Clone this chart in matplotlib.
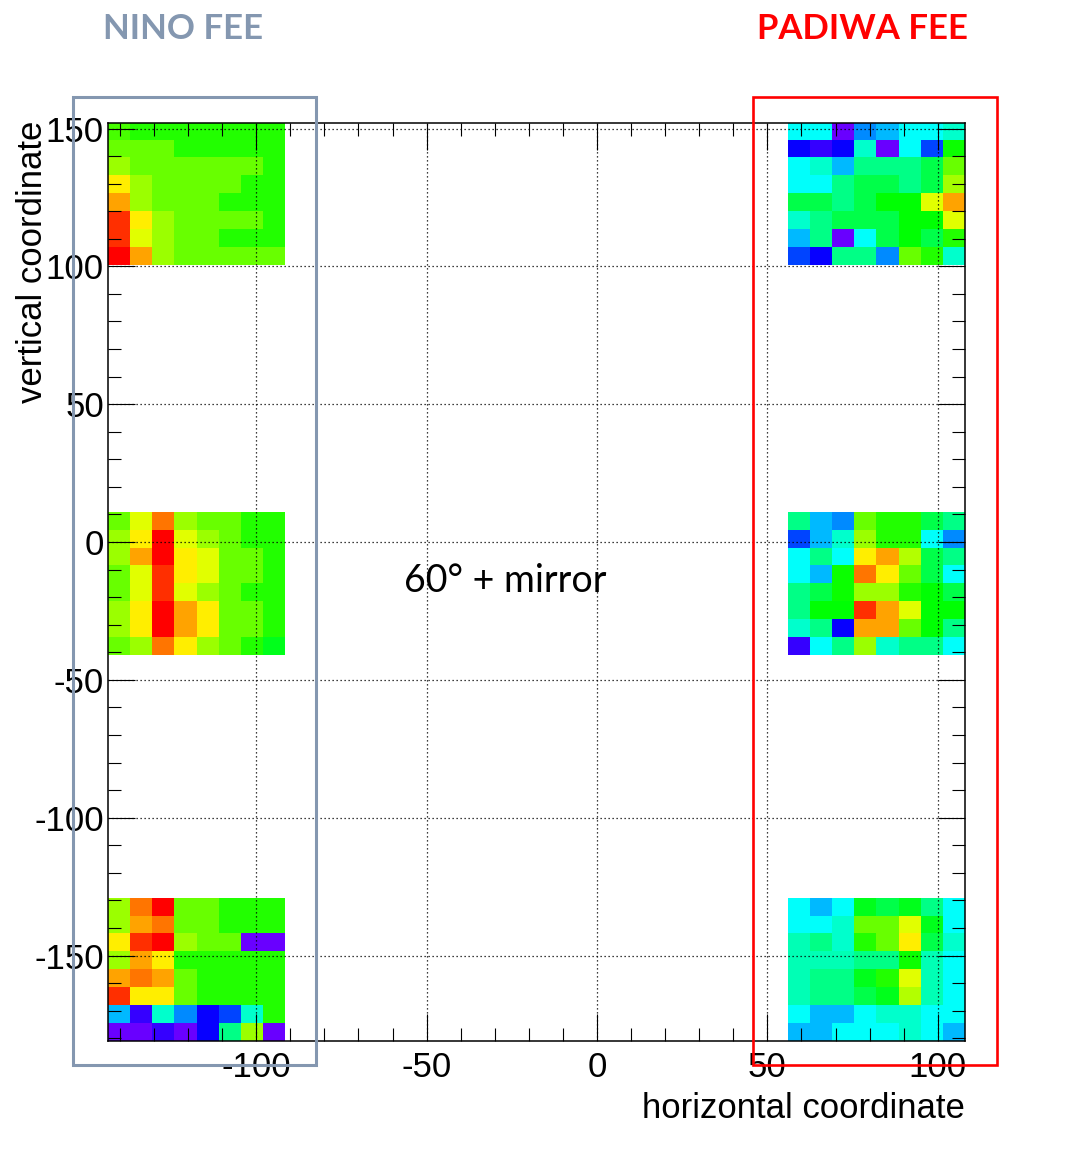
import numpy as np
import matplotlib
matplotlib.use('Agg')
import matplotlib.pyplot as plt
from matplotlib.colors import ListedColormap, hsv_to_rgb
from matplotlib.patches import Rectangle
from matplotlib.ticker import MultipleLocator

# cell values (0 = violet ... 1 = red), rows listed top to bottom
nino_top = [
    [0.63, 0.60, 0.60, 0.60, 0.60, 0.60, 0.60, 0.60],
    [0.66, 0.66, 0.66, 0.60, 0.60, 0.60, 0.60, 0.60],
    [0.70, 0.66, 0.66, 0.66, 0.66, 0.66, 0.66, 0.60],
    [0.80, 0.70, 0.66, 0.66, 0.66, 0.66, 0.60, 0.60],
    [0.86, 0.70, 0.66, 0.66, 0.66, 0.60, 0.60, 0.60],
    [0.96, 0.80, 0.70, 0.66, 0.66, 0.66, 0.66, 0.60],
    [0.96, 0.76, 0.70, 0.66, 0.66, 0.60, 0.60, 0.60],
    [1.00, 0.86, 0.70, 0.66, 0.66, 0.66, 0.66, 0.66],
]
nino_mid = [
    [0.66, 0.76, 0.90, 0.70, 0.66, 0.66, 0.60, 0.60],
    [0.70, 0.80, 1.00, 0.76, 0.70, 0.66, 0.60, 0.60],
    [0.70, 0.86, 1.00, 0.80, 0.76, 0.66, 0.66, 0.60],
    [0.66, 0.76, 0.96, 0.80, 0.76, 0.66, 0.66, 0.60],
    [0.66, 0.76, 0.96, 0.76, 0.70, 0.66, 0.60, 0.60],
    [0.70, 0.80, 1.00, 0.86, 0.80, 0.66, 0.66, 0.60],
    [0.70, 0.80, 1.00, 0.86, 0.80, 0.66, 0.66, 0.60],
    [0.66, 0.70, 0.90, 0.80, 0.70, 0.66, 0.60, 0.55],
]
nino_bot = [
    [0.70, 0.90, 1.00, 0.66, 0.66, 0.60, 0.60, 0.60],
    [0.70, 0.86, 0.90, 0.66, 0.66, 0.60, 0.60, 0.60],
    [0.80, 0.96, 1.00, 0.70, 0.66, 0.66, 0.057, 0.057],
    [0.70, 0.86, 0.80, 0.60, 0.60, 0.60, 0.60, 0.60],
    [0.86, 0.90, 0.86, 0.66, 0.60, 0.60, 0.60, 0.60],
    [0.96, 0.80, 0.80, 0.66, 0.60, 0.60, 0.60, 0.60],
    [0.30, 0.10, 0.40, 0.26, 0.14, 0.20, 0.40, 0.60],
    [0.057, 0.057, 0.10, 0.057, 0.14, 0.46, 0.70, 0.057],
]
padiwa_top = [
    [0.36, 0.36, 0.057, 0.26, 0.30, 0.36, 0.36, 0.40],
    [0.14, 0.10, 0.14, 0.40, 0.057, 0.36, 0.20, 0.58],
    [0.36, 0.40, 0.30, 0.46, 0.46, 0.46, 0.51, 0.66],
    [0.36, 0.36, 0.46, 0.51, 0.51, 0.46, 0.51, 0.71],
    [0.51, 0.51, 0.46, 0.51, 0.57, 0.57, 0.76, 0.86],
    [0.40, 0.46, 0.51, 0.51, 0.51, 0.57, 0.57, 0.76],
    [0.30, 0.46, 0.057, 0.36, 0.51, 0.57, 0.51, 0.60],
    [0.20, 0.14, 0.46, 0.46, 0.26, 0.66, 0.60, 0.40],
]
padiwa_mid = [
    [0.46, 0.30, 0.26, 0.66, 0.60, 0.60, 0.51, 0.46],
    [0.20, 0.30, 0.40, 0.70, 0.60, 0.60, 0.36, 0.26],
    [0.36, 0.46, 0.36, 0.80, 0.86, 0.72, 0.51, 0.46],
    [0.36, 0.30, 0.58, 0.90, 0.80, 0.66, 0.51, 0.36],
    [0.46, 0.51, 0.58, 0.70, 0.70, 0.60, 0.57, 0.51],
    [0.46, 0.57, 0.57, 0.96, 0.86, 0.76, 0.57, 0.57],
    [0.40, 0.46, 0.14, 0.86, 0.86, 0.66, 0.57, 0.46],
    [0.10, 0.36, 0.46, 0.70, 0.40, 0.46, 0.46, 0.36],
]
padiwa_bot = [
    [0.36, 0.30, 0.36, 0.55, 0.51, 0.55, 0.46, 0.36],
    [0.36, 0.36, 0.40, 0.66, 0.66, 0.76, 0.55, 0.36],
    [0.42, 0.46, 0.40, 0.60, 0.66, 0.80, 0.51, 0.40],
    [0.42, 0.42, 0.42, 0.46, 0.46, 0.58, 0.42, 0.36],
    [0.42, 0.46, 0.46, 0.55, 0.60, 0.76, 0.42, 0.36],
    [0.42, 0.46, 0.46, 0.51, 0.55, 0.72, 0.42, 0.36],
    [0.36, 0.30, 0.30, 0.36, 0.40, 0.40, 0.36, 0.36],
    [0.30, 0.30, 0.36, 0.36, 0.36, 0.40, 0.36, 0.30],
]

# block corners: left x and top y of each 8x8 group
block_x0 = {"nino": -143.5, "padiwa": 56.0}
block_ytop = {"top": 152.5, "mid": 11.0, "bot": -129.0}
cell = 6.5

blocks = [
    ("nino", "top", nino_top), ("nino", "mid", nino_mid), ("nino", "bot", nino_bot),
    ("padiwa", "top", padiwa_top), ("padiwa", "mid", padiwa_mid), ("padiwa", "bot", padiwa_bot),
]

# ROOT-like rainbow palette: violet -> red
hues = np.linspace(280 / 360, 0, 256)
palette = ListedColormap(hsv_to_rgb(np.column_stack([hues, np.ones(256), np.ones(256)])))

plt.rcParams['font.family'] = ['Liberation Sans', 'DejaVu Sans']
plt.rcParams['axes.unicode_minus'] = False

fig = plt.figure(figsize=(10.69, 11.56), dpi=100)
ax = fig.add_axes([108 / 1069, 115 / 1156, 857 / 1069, 918 / 1156])

for side, row, vals in blocks:
    xe = block_x0[side] + cell * np.arange(9)
    ye = block_ytop[row] - cell * np.arange(9)
    ax.pcolormesh(xe, ye, np.array(vals), cmap=palette, vmin=0, vmax=1,
                  shading='flat', linewidth=0, zorder=1)

ax.set_xlim(-143.5, 108)
ax.set_ylim(-181, 152)

ax.xaxis.set_major_locator(MultipleLocator(50))
ax.xaxis.set_minor_locator(MultipleLocator(10))
ax.yaxis.set_major_locator(MultipleLocator(50))
ax.yaxis.set_minor_locator(MultipleLocator(10))

ax.tick_params(which='both', direction='in', top=True, right=True, color='black', width=0.8)
ax.tick_params(which='major', length=19.5, labelsize=25)
ax.tick_params(which='minor', length=9.5)
ax.tick_params(axis='x', which='major', pad=7)
ax.tick_params(axis='y', which='major', pad=3)

ax.set_axisbelow(False)
ax.grid(True, which='major', color='black', linestyle=(0, (1, 2.2)), linewidth=0.9)
for sp in ax.spines.values():
    sp.set_linewidth(1.1)

ax.set_xlabel('horizontal coordinate', fontsize=25, loc='right')
ax.set_ylabel('vertical coordinate', fontsize=25, loc='top')
ax.xaxis.set_label_coords(1.0, -0.056)
ax.yaxis.set_label_coords(-0.069, 1.003)

fig.text(505 / 1069, 1 - 592 / 1156, '60° + mirror', fontsize=27, family='Lato',
         ha='center', va='baseline')
fig.text(103 / 1069, 1 - 39 / 1156, 'NINO FEE', fontsize=25, family='Lato',
         fontweight='bold', color='#8497b0', ha='left', va='baseline')
fig.text(757 / 1069, 1 - 39 / 1156, 'PADIWA FEE', fontsize=25, family='Lato',
         fontweight='bold', color='#ff0000', ha='left', va='baseline')

fig.patches.append(Rectangle((73 / 1069, 1 - 1065 / 1156), 243 / 1069, 968 / 1156,
                             transform=fig.transFigure, fill=False,
                             edgecolor='#8497b0', linewidth=2.2, zorder=5))
fig.patches.append(Rectangle((753 / 1069, 1 - 1065 / 1156), 244 / 1069, 968 / 1156,
                             transform=fig.transFigure, fill=False,
                             edgecolor='#ff0000', linewidth=1.9, zorder=5))

fig.savefig('out.png', dpi=100)
